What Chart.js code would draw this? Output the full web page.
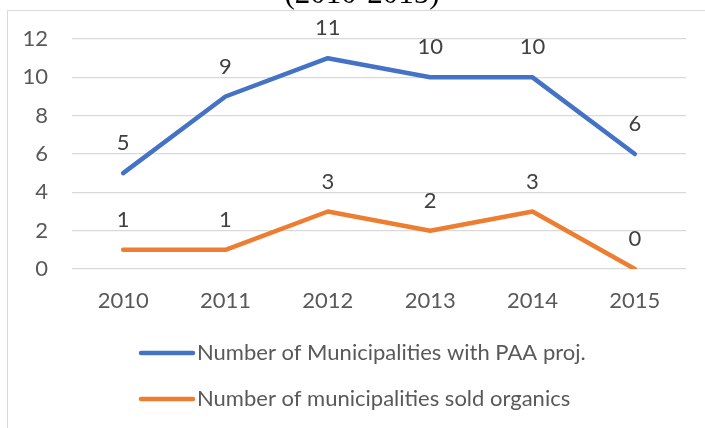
<!DOCTYPE html>
<html>
<head>
<meta charset="utf-8">
<script src="https://cdn.jsdelivr.net/npm/chart.js@4/dist/chart.umd.min.js"></script>
<style>
  html, body { margin: 0; padding: 0; background: #fff; overflow: hidden; }
  #wrap { width: 705px; height: 428px; position: relative; }
</style>
</head>
<body>
<div id="wrap"><canvas id="chart" width="705" height="428"></canvas></div>
<script>
const years = ["2010", "2011", "2012", "2013", "2014", "2015"];
const paaProj = [5, 9, 11, 10, 10, 6];
const soldOrganics = [1, 1, 3, 2, 3, 0];
const seriesNames = ["Number of Municipalities with PAA proj.", "Number of municipalities sold organics"];
const yTicks = [0, 2, 4, 6, 8, 10, 12];

const FONT = "Lato";
const textGrey = "#595959";

// frame + cut-off title above it
const framePlugin = {
  id: "frame",
  beforeDraw(chart) {
    const c = chart.ctx;
    c.save();
    c.strokeStyle = "#d9d9d9";
    c.lineWidth = 1;
    c.beginPath();
    c.moveTo(7.5, 440);
    c.lineTo(7.5, 10.5);
    c.lineTo(720, 10.5);
    c.stroke();
    c.fillStyle = "#000";
    c.font = "31px 'Liberation Serif'";
    c.textAlign = "center";
    c.textBaseline = "alphabetic";
    c.fillText("(2010-2015)", 362, 3);
    c.restore();
  }
};

// value labels above each point
const valueLabels = {
  id: "valueLabels",
  afterDatasetsDraw(chart) {
    const c = chart.ctx;
    c.save();
    c.font = "22px " + FONT;
    c.fillStyle = "#404040";
    c.textAlign = "center";
    c.textBaseline = "middle";
    chart.data.datasets.forEach((ds, i) => {
      chart.getDatasetMeta(i).data.forEach((pt, j) => {
        c.fillText(String(ds.data[j]), pt.x, pt.y - 30);
      });
    });
    c.restore();
  }
};

// stacked legend under the axis
const stackedLegend = {
  id: "stackedLegend",
  afterDraw(chart) {
    const c = chart.ctx;
    c.save();
    c.font = "22px " + FONT;
    c.textBaseline = "middle";
    c.textAlign = "left";
    chart.data.datasets.forEach((ds, i) => {
      const y = 353 + i * 46;
      c.strokeStyle = ds.borderColor;
      c.lineWidth = 4.5;
      c.lineCap = "round";
      c.beginPath();
      c.moveTo(141, y);
      c.lineTo(193, y);
      c.stroke();
      c.fillStyle = textGrey;
      c.fillText(ds.label, 197, y);
    });
    c.restore();
  }
};

new Chart(document.getElementById("chart").getContext("2d"), {
  type: "line",
  data: {
    labels: years,
    datasets: [
      {
        label: seriesNames[0],
        data: paaProj,
        borderColor: "#4472c4",
        borderWidth: 4.5,
        borderCapStyle: "round",
        borderJoinStyle: "round",
        pointRadius: 0,
        tension: 0
      },
      {
        label: seriesNames[1],
        data: soldOrganics,
        borderColor: "#ed7d31",
        borderWidth: 4.5,
        borderCapStyle: "round",
        borderJoinStyle: "round",
        pointRadius: 0,
        tension: 0
      }
    ]
  },
  options: {
    responsive: false,
    animation: false,
    layout: { padding: { left: 0, right: 19, top: 39, bottom: 109 } },
    plugins: {
      legend: { display: false },
      tooltip: { enabled: false }
    },
    scales: {
      x: {
        offset: true,
        grid: { display: false, drawTicks: false },
        border: { display: false },
        ticks: { color: textGrey, font: { family: FONT, size: 22 }, padding: 19 },
        afterFit: (s) => { s.height = 50; }
      },
      y: {
        min: yTicks[0],
        max: yTicks[yTicks.length - 1],
        afterBuildTicks: (s) => { s.ticks = yTicks.map(v => ({ value: v })); },
        grid: { color: "#d9d9d9", lineWidth: 1.3, drawTicks: false },
        border: { display: false },
        ticks: { color: textGrey, font: { family: FONT, size: 22 }, padding: 24 },
        afterFit: (s) => { s.width = 72; }
      }
    }
  },
  plugins: [framePlugin, valueLabels, stackedLegend]
});
</script>
</body>
</html>
